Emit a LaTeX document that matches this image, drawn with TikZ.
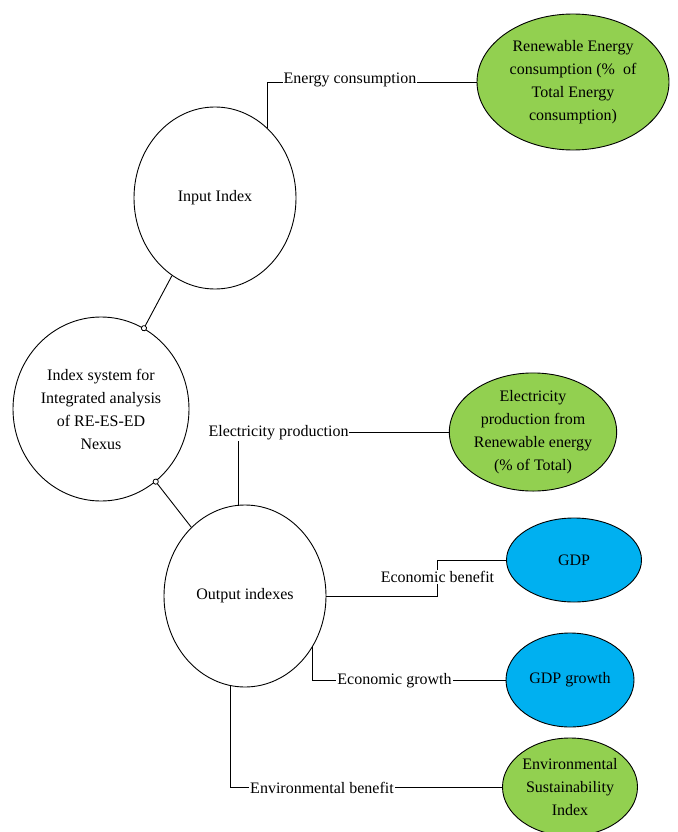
\documentclass[tikz,border=0pt]{standalone}
\usepackage{fontspec}
\setmainfont{Liberation Serif}
\usetikzlibrary{shapes.geometric,arrows.meta,backgrounds}
\definecolor{rgreen}{HTML}{92D050}
\definecolor{rblue}{HTML}{00B0F0}
\begin{document}
\begin{tikzpicture}[x=1pt,y=-1pt,
  font=\fontsize{16}{23}\selectfont,
  ell/.style={ellipse, draw, line width=0.9pt, inner sep=0pt, align=center},
  lab/.style={fill=white, inner sep=1pt},
  conn/.style={line width=0.9pt},
  ctip/.style={-{Circle[length=6pt, width=6pt, fill=white, line width=0.8pt]}, shorten >=-3pt}]
\useasboundingbox (0,0) rectangle (677,832);
% ellipses
\node[ell, minimum width=162pt, minimum height=182pt] (inp) at (215,198) {Input Index};
\node[ell, minimum width=176pt, minimum height=184pt] (sys) at (101,409) {Index system for\\Integrated analysis\\of RE-ES-ED\\Nexus};
\node[ell, minimum width=162pt, minimum height=182pt] (out) at (245,596) {Output indexes};
\node[ell, fill=rgreen, minimum width=192pt, minimum height=136pt] (ren) at (573,82) {Renewable Energy\\consumption (\%\ \ of\\Total Energy\\consumption)};
\node[ell, fill=rgreen, minimum width=158pt, minimum height=118pt] (epr) at (533,432) {Electricity\\production from\\Renewable energy\\(\% of Total)};
\node[ell, fill=rblue, minimum width=135pt, minimum height=84pt] (gdp) at (574,560) {GDP};
\node[ell, fill=rblue, minimum width=128pt, minimum height=94pt] (ggr) at (570,680) {GDP growth};
\node[ell, fill=rgreen, minimum width=135pt, minimum height=98pt] (env) at (570,787) {Environmental\\Sustainability\\Index};
% labels
\node[lab] (lec) at (350,80) {Energy consumption};
\node[lab] (lep) at (278.5,433) {Electricity production};
\node[lab] (leb) at (437.5,577) {Economic benefit};
\node[lab] (leg) at (394.5,681) {Economic growth};
\node[lab] (len) at (322,788) {Environmental benefit};
% connectors
\begin{scope}[on background layer]
\draw[conn] (inp.53) |- (ren.west);
\draw[conn] (out.94) |- (epr.west);
\draw[conn] (out.east) -| (leb.center |- gdp.west) -- (gdp.west);
\draw[conn] (out.-37) |- (ggr.west);
\draw[conn] (out.261) |- (env.west);
\end{scope}
\draw[conn, ctip] (inp.241) -- (sys.62);
\draw[conn, ctip] (out.128) -- (sys.307);
\end{tikzpicture}
\end{document}
